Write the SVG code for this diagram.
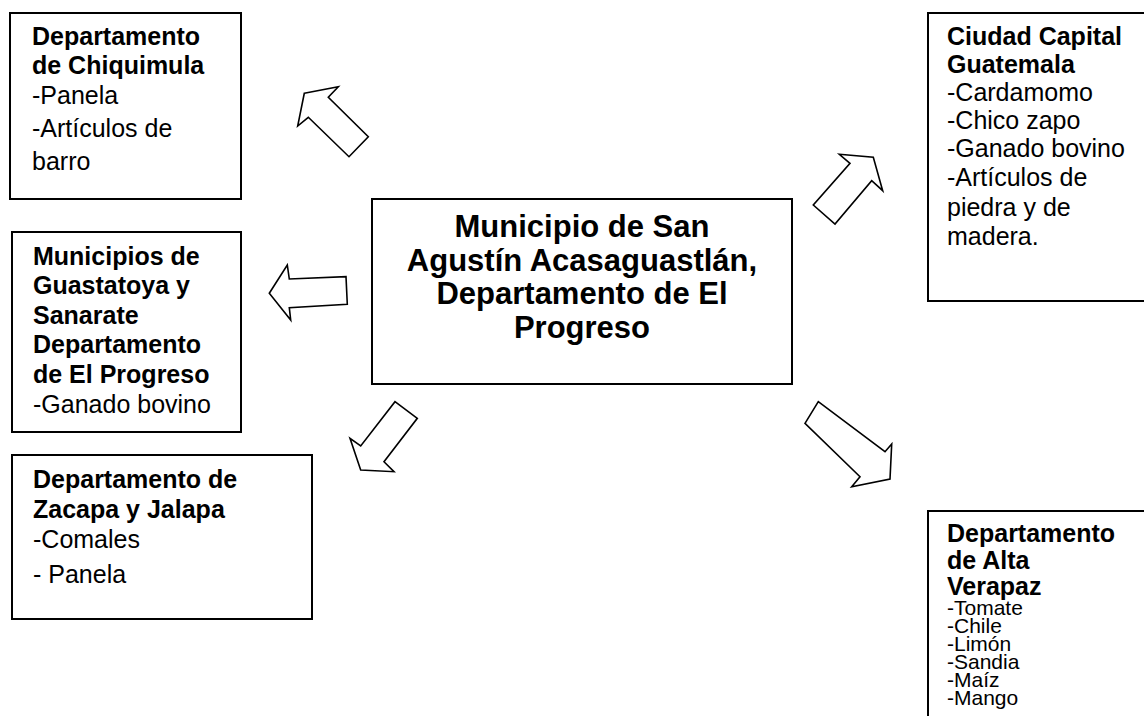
<svg xmlns="http://www.w3.org/2000/svg" width="1144" height="716" viewBox="0 0 1144 716">
<style>
.box{fill:#fff;stroke:#000;stroke-width:2}
.arr{fill:#fff;stroke:#000;stroke-width:1.6;stroke-linejoin:miter}
text{font-family:"Liberation Sans",Arial,sans-serif;font-size:25px;fill:#000}
.b{font-weight:bold}
.c{font-weight:bold;font-size:31px;text-anchor:middle}
.s{font-size:21px}
</style>
<rect width="1144" height="716" fill="#fff"/>
<g id="connectors">
<polygon class="arr" points="304.3,93.3 338.3,86.7 328.3,97.3 368.3,136.7 349,156.7 308.3,117.3 297.7,126"/>
<polygon class="arr" points="839.3,154.3 873.3,157.3 882.7,190.7 871.7,180.7 835,224 813.3,205 850,163.3"/>
<polygon class="arr" points="269.3,293.3 287.3,265 289.3,279 346,276.7 347.3,304.3 289.3,307.7 290.7,320"/>
<polygon class="arr" points="395,401.7 417.3,418.3 384,461.7 394,471.7 360.7,470 350,438.3 360.7,446"/>
<polygon class="arr" points="805,423.3 818.3,401.7 885,451.7 891.7,444 890,479 851.7,486.7 860,476.7"/>
</g>
<g id="center">
<rect class="box" x="372" y="199" width="420" height="185"/>
<text class="c" x="582" y="237">Municipio de San</text>
<text class="c" x="582" y="271">Agustín Acasaguastlán,</text>
<text class="c" x="582" y="304">Departamento de El</text>
<text class="c" x="582" y="338">Progreso</text>
</g>
<g id="chiquimula">
<rect class="box" x="10" y="13" width="231" height="186"/>
<text class="b" x="32" y="45">Departamento</text>
<text class="b" x="32" y="74">de Chiquimula</text>
<text x="32" y="104">-Panela</text>
<text x="32" y="137">-Artículos de</text>
<text x="32" y="170">barro</text>
</g>
<g id="capital">
<rect class="box" x="928" y="13" width="230" height="288"/>
<text class="b" x="947" y="45">Ciudad Capital</text>
<text class="b" x="947" y="73">Guatemala</text>
<text x="947" y="101">-Cardamomo</text>
<text x="947" y="129">-Chico zapo</text>
<text x="947" y="157">-Ganado bovino</text>
<text x="947" y="186">-Artículos de</text>
<text x="947" y="216">piedra y de</text>
<text x="947" y="245">madera.</text>
</g>
<g id="guastatoya">
<rect class="box" x="12" y="232" width="229" height="200"/>
<text class="b" x="33" y="265">Municipios de</text>
<text class="b" x="33" y="294">Guastatoya y</text>
<text class="b" x="33" y="324">Sanarate</text>
<text class="b" x="33" y="353">Departamento</text>
<text class="b" x="33" y="383">de El Progreso</text>
<text x="33" y="413">-Ganado bovino</text>
</g>
<g id="zacapa">
<rect class="box" x="12" y="455" width="300" height="164"/>
<text class="b" x="33" y="488">Departamento de</text>
<text class="b" x="33" y="518">Zacapa y Jalapa</text>
<text x="33" y="548">-Comales</text>
<text x="33" y="583">- Panela</text>
</g>
<g id="altaverapaz">
<rect class="box" x="928" y="511" width="230" height="220"/>
<text class="b" x="947" y="542">Departamento</text>
<text class="b" x="947" y="569">de Alta</text>
<text class="b" x="947" y="595">Verapaz</text>
<text class="s" x="947" y="615">-Tomate</text>
<text class="s" x="947" y="633">-Chile</text>
<text class="s" x="947" y="651">-Limón</text>
<text class="s" x="947" y="669">-Sandia</text>
<text class="s" x="947" y="687">-Maíz</text>
<text class="s" x="947" y="705">-Mango</text>
</g>
</svg>
